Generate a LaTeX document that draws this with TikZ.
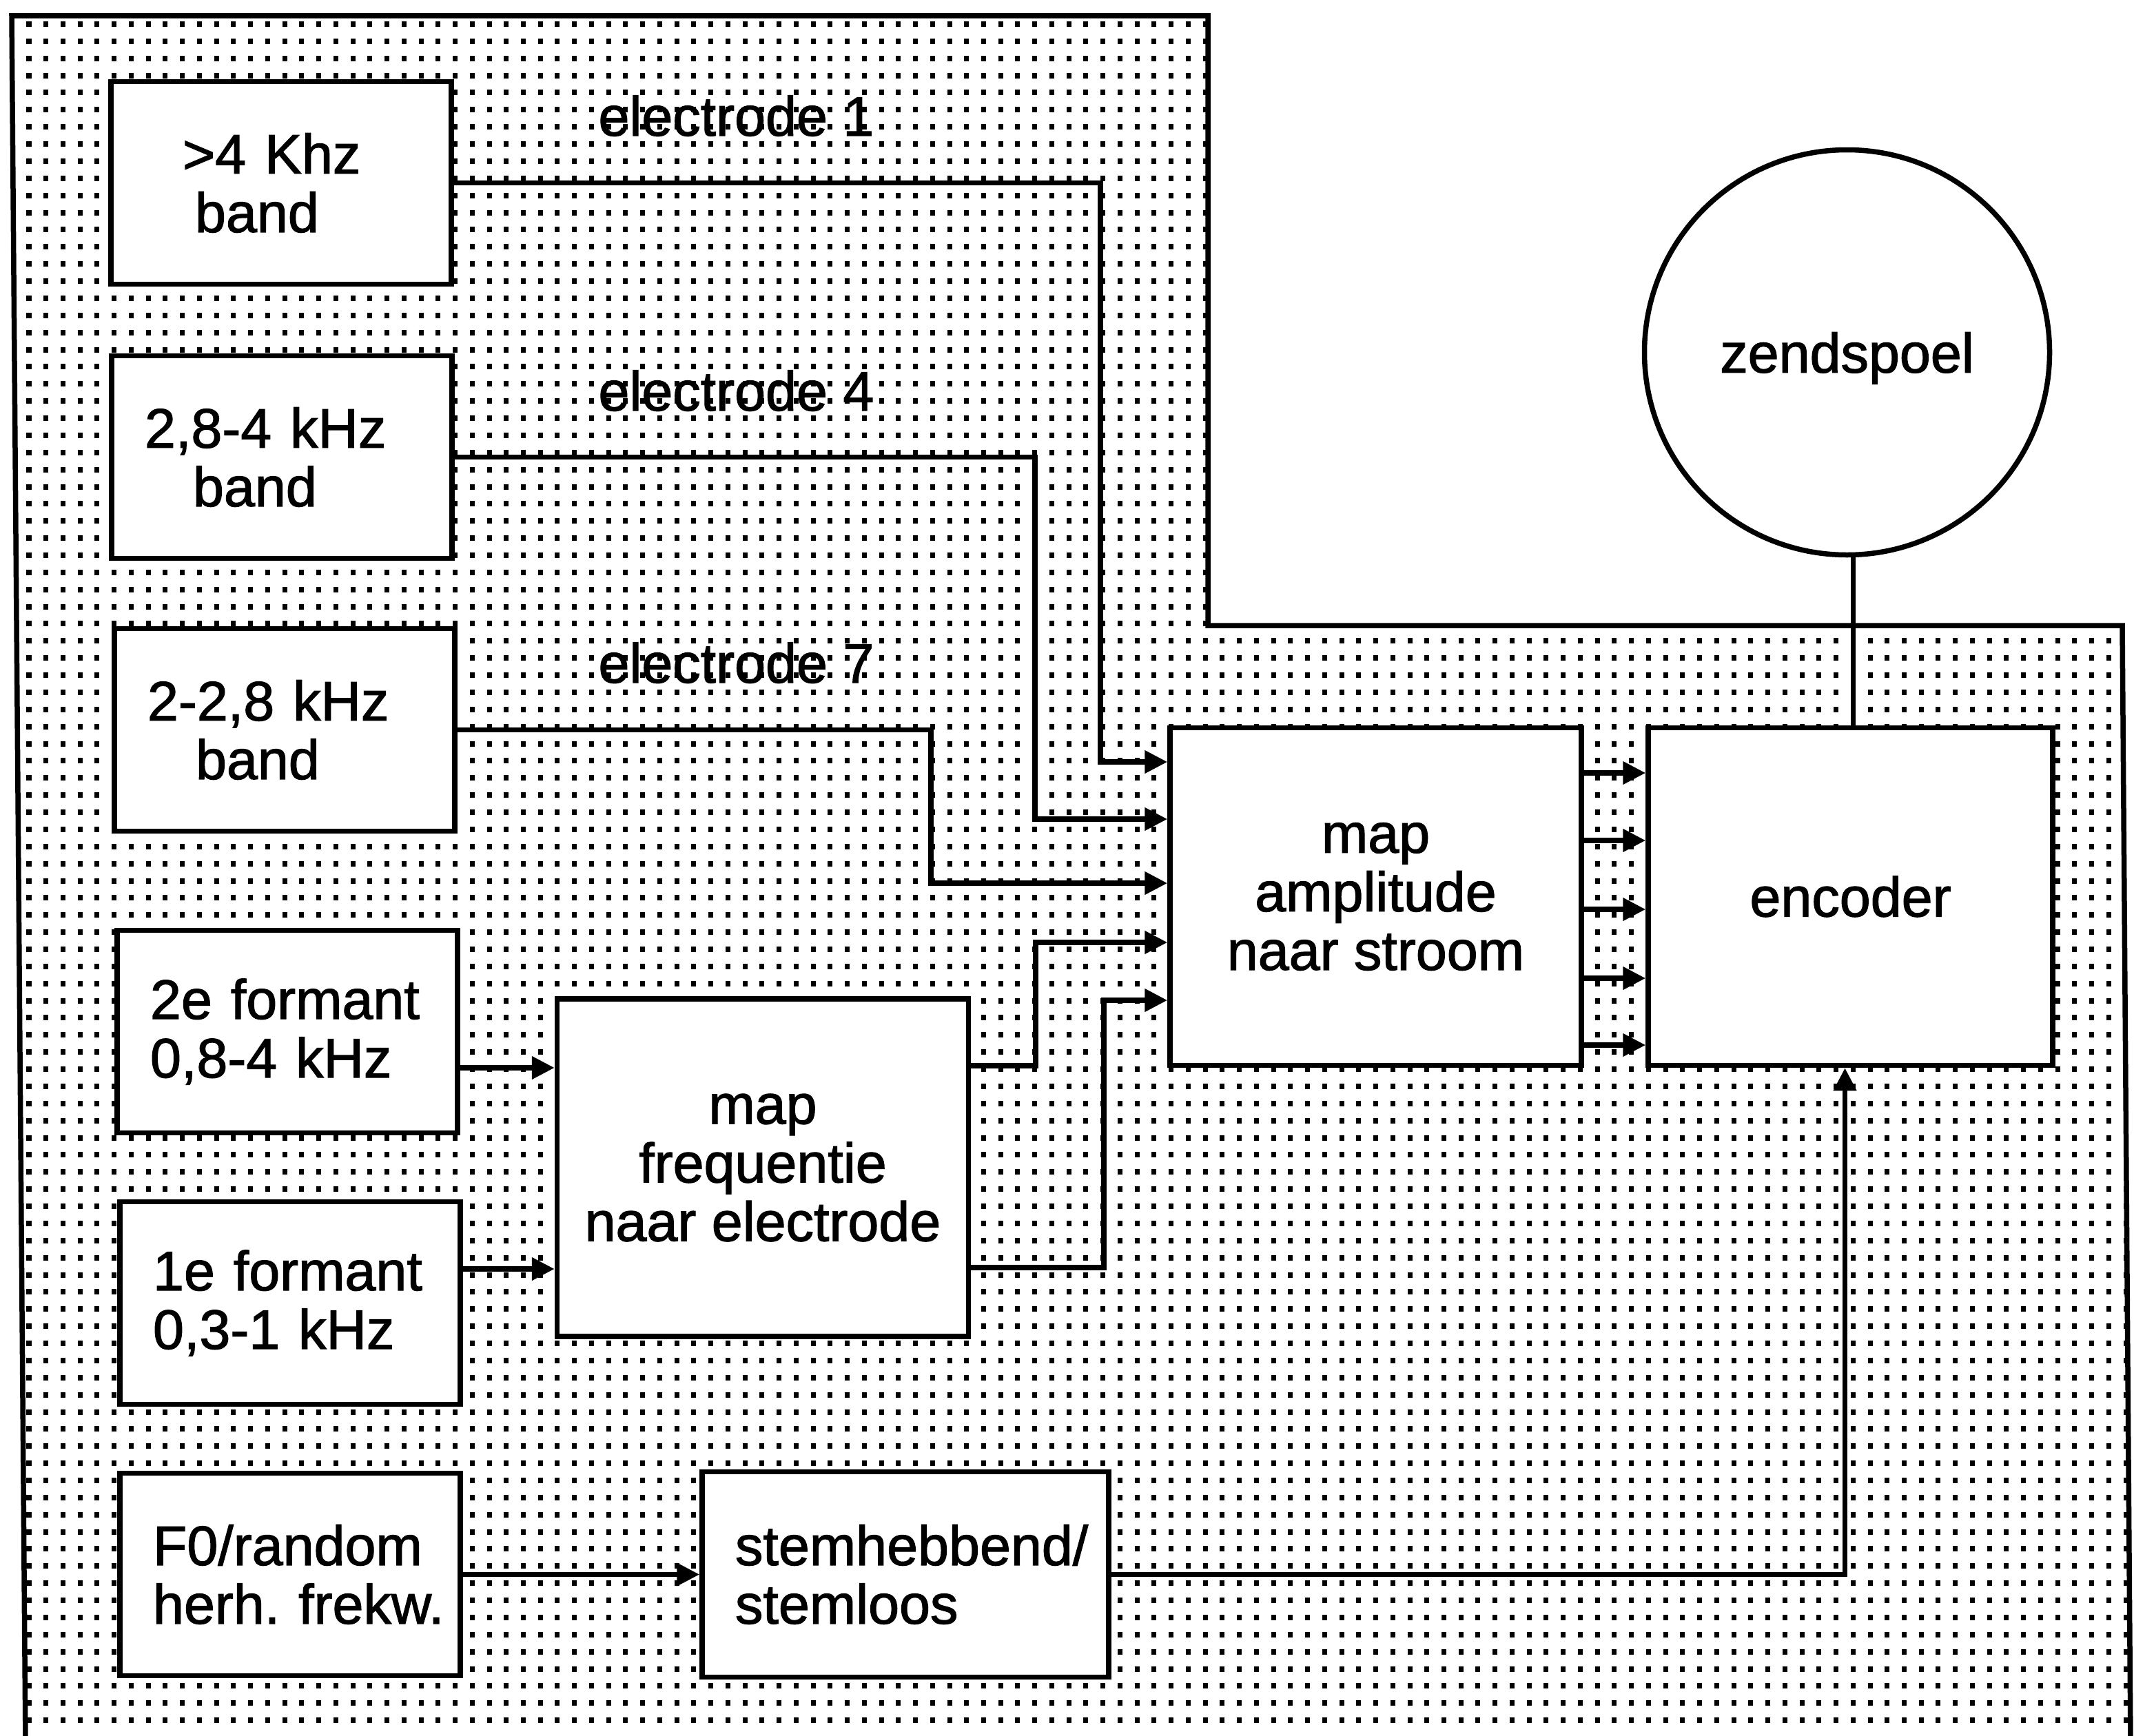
\documentclass[tikz,border=0pt]{standalone}
\usepackage{fontspec}
\setmainfont{Liberation Sans}[FakeBold=1.5]
\usepackage{tikz}
\usetikzlibrary{arrows.meta, positioning}

\begin{document}
\begin{tikzpicture}[font=\fontsize{23}{24.2}\selectfont, line width=0.075cm,
  box/.style={rectangle, draw, fill=white, minimum width=4.94cm, minimum height=2.94cm,
              inner xsep=0.48cm, text width=3.98cm, align=left},
  big/.style={rectangle, draw, fill=white, minimum width=5.97cm, minimum height=4.90cm,
              align=center},
  a/.style={-{Triangle[length=0.33cm, width=0.32cm]}},
  raster/.style={line width=0.08cm, dash pattern=on 0.07cm off 0.1774cm}]
  \useasboundingbox (0,0) rectangle (30.97,-25.20);
  % dotted field
  \begin{scope}
    \clip (0.17,-0.23) -- (17.53,-0.23) -- (17.53,-9.08) -- (30.80,-9.08)
          -- (30.92,-25.3) -- (0.37,-25.3) -- cycle;
    \foreach \k in {0,...,99}
      \draw[raster] (0.385,{-0.35-0.2487*\k}) -- (31,{-0.35-0.2487*\k});
  \end{scope}
  \draw (0.37,-25.3) -- (0.17,-0.23) -- (17.53,-0.23) -- (17.53,-9.08)
        -- (30.80,-9.08) -- (30.92,-25.3);
  % filter boxes
  \node[box] (band1) at (4.08,-2.655) {\hspace*{0.56cm}>4 Khz\\\hspace*{0.74cm}band};
  \node[box, below=0.965cm of band1, xshift=0.01cm] (band2) {2,8-4 kHz\\\hspace*{0.70cm}band};
  \node[box, below=0.945cm of band2, xshift=0.04cm] (band3) {2-2,8 kHz\\\hspace*{0.70cm}band};
  \node[box, below=1.365cm of band3, xshift=0.04cm] (form2) {2e formant\\0,8-4 kHz};
  \node[box, below=0.925cm of form2, xshift=0.04cm] (form1) {1e formant\\0,3-1 kHz};
  \node[box, below=0.925cm of form1] (pitch) {F0/random\\\mbox{herh.\ frekw.}};
  % processing
  \node[big] (fmap) at (11.07,-16.95) {map\\frequentie\\naar electrode};
  \node[big] (amap) at (19.965,-13.015) {map\\amplitude\\naar stroom};
  \node[big, minimum width=5.87cm, right=0.895cm of amap] (enc) {encoder};
  \node[box, minimum width=5.90cm, minimum height=2.98cm, text width=4.94cm,
        right=3.435cm of pitch] (stem) {\mbox{stemhebbend/}\\stemloos};
  \node[draw, circle, fill=white, minimum size=5.88cm, inner sep=0pt, text depth=0pt,
        above=2.435cm of enc, xshift=-0.05cm] (coil) {zendspoel};
  % electrode labels
  \node[anchor=base west] (lab1) at (8.53,-1.97) {electrode 1};
  \node[anchor=base west] (lab4) at (8.53,-5.96) {electrode 4};
  \node[anchor=base west] (lab7) at (8.53,-9.91) {electrode 7};
  % connectors
  \coordinate (k1) at (15.97,-11.06);
  \coordinate (k4) at (15.02,-11.89);
  \coordinate (k7) at (13.51,-12.82);
  \coordinate (k8) at (15.03,-13.68);
  \coordinate (k9) at (16.02,-14.52);
  \draw[a] (band1.east) -| (k1) -- (k1 -| amap.west);
  \draw[a] (band2.east) -| (k4) -- (k4 -| amap.west);
  \draw[a] (band3.east) -| (k7) -- (k7 -| amap.west);
  \draw[a] (fmap.east |- 0,-15.47) -| (k8) -- (k8 -| amap.west);
  \draw[a] (fmap.east |- 0,-18.40) -| (k9) -- (k9 -| amap.west);
  \draw[a] (form2.east |- 0,-15.50) -- (fmap.west |- 0,-15.50);
  \draw[a] (form1.east |- 0,-18.42) -- (fmap.west |- 0,-18.42);
  \draw[a] (pitch.east) -- (stem.west);
  \foreach \y in {11.22,12.20,13.20,14.20,15.17}
    \draw[a] (amap.east |- 0,-\y) -- (enc.west |- 0,-\y);
  \draw[a] (stem.east) -| ([xshift=-0.08cm]enc.south);
  \draw ([xshift=0.09cm]coil.south) -- ([xshift=0.09cm]coil.south |- enc.north);
\end{tikzpicture}
\end{document}
